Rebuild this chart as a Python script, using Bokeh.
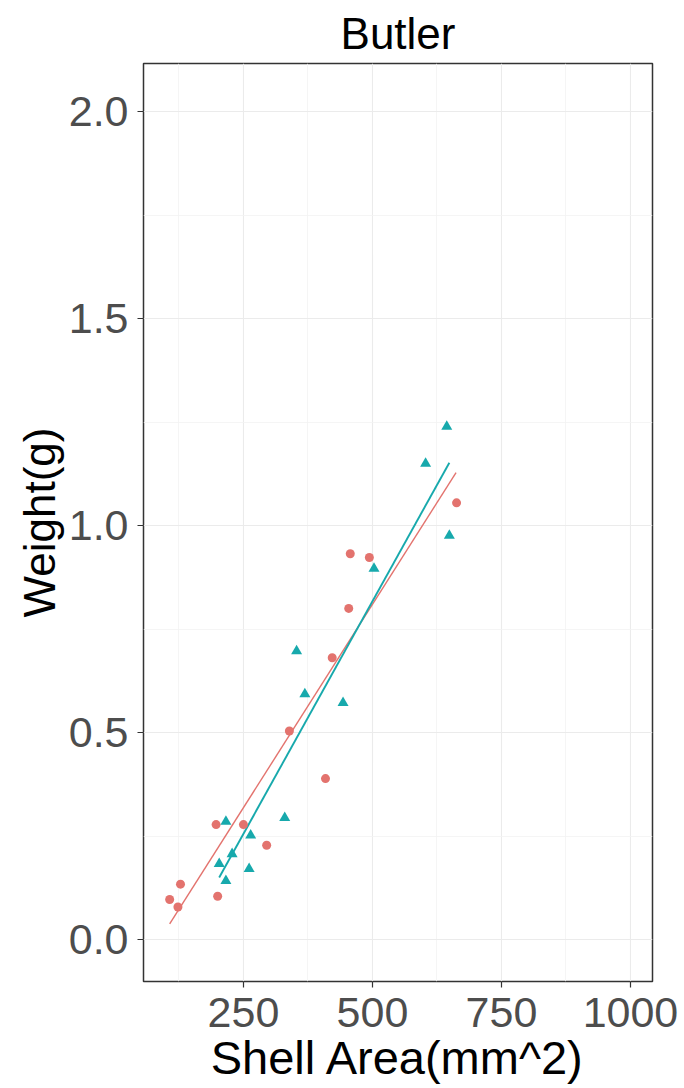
from bokeh.plotting import figure
from bokeh.models import FixedTicker, Range1d
from bokeh.embed import file_html
from bokeh.resources import INLINE

# ---- data ----
red_area = [107, 128, 123, 200, 197, 250, 295, 339, 409, 422, 454, 457, 494, 663]
red_weight = [0.097, 0.134, 0.079, 0.105, 0.278, 0.278, 0.228, 0.504, 0.389, 0.681, 0.800, 0.932, 0.923, 1.055]

teal_area = [216, 203, 216, 228, 264, 261, 330, 353, 369, 443, 503, 603, 644, 649]
teal_weight = [0.285, 0.183, 0.142, 0.207, 0.252, 0.171, 0.294, 0.697, 0.593, 0.572, 0.896, 1.150, 1.239, 0.976]

red_fit_area = [107, 662]
red_fit_weight = [0.038, 1.128]
teal_fit_area = [203, 649]
teal_fit_weight = [0.150, 1.152]

x_ticks = [250, 500, 750, 1000]
x_minor = [125, 375, 625, 875]
y_ticks = [0.0, 0.5, 1.0, 1.5, 2.0]
y_minor = [0.25, 0.75, 1.25, 1.75]

RED = "#E3736E"
TEAL = "#17A9AC"
FONT = "Liberation Sans"

p = figure(frame_width=509, frame_height=918,
           x_range=Range1d(56.3, 1042.7), y_range=Range1d(-0.101, 2.116),
           output_backend="svg", toolbar_location=None,
           min_border_left=143, min_border_right=32, min_border_top=61, min_border_bottom=100,
           background_fill_color="white", border_fill_color="white")

p.title.text = "Butler"
p.title.align = "center"
p.title.text_font = FONT
p.title.text_font_size = "44px"
p.title.text_font_style = "normal"
p.title.text_color = "black"
p.title.standoff = 12

p.outline_line_color = "#333333"
p.outline_line_width = 1.5

p.xaxis.ticker = FixedTicker(ticks=x_ticks, minor_ticks=x_minor)
p.yaxis.ticker = FixedTicker(ticks=y_ticks, minor_ticks=y_minor)
p.yaxis.major_label_overrides = {0.0: "0.0", 0.5: "0.5", 1.0: "1.0", 1.5: "1.5", 2.0: "2.0"}

for ax in (p.xaxis, p.yaxis):
    ax.axis_line_color = None
    ax.major_tick_line_color = "#333333"
    ax.major_tick_line_width = 1.2
    ax.major_tick_out = 6
    ax.major_tick_in = 0
    ax.minor_tick_line_color = None
    ax.major_label_text_font = FONT
    ax.major_label_text_font_size = "43px"
    ax.major_label_text_color = "#4D4D4D"
    ax.axis_label_text_font = FONT
    ax.axis_label_text_font_style = "normal"
    ax.axis_label_text_color = "black"

p.xaxis.axis_label = "Shell Area(mm^2)"
p.xaxis.axis_label_text_font_size = "47px"
p.xaxis.major_label_standoff = 10
p.xaxis.axis_label_standoff = 1
p.yaxis.axis_label = "Weight(g)"
p.yaxis.axis_label_text_font_size = "44px"
p.yaxis.major_label_standoff = 9
p.yaxis.axis_label_standoff = 2

for g in (p.xgrid, p.ygrid):
    g.grid_line_color = "#EBEBEB"
    g.grid_line_width = 1.1
    g.minor_grid_line_color = "#F2F2F2"
    g.minor_grid_line_width = 0.8

p.line(red_fit_area, red_fit_weight, line_color=RED, line_width=1.4)
p.line(teal_fit_area, teal_fit_weight, line_color=TEAL, line_width=1.9)

p.scatter(red_area, red_weight, marker="circle", size=9, fill_color=RED, line_color=None)
p.scatter(teal_area, teal_weight, marker="triangle", size=11, fill_color=TEAL, line_color=None)

open("out.html", "w").write(file_html(p, INLINE))
